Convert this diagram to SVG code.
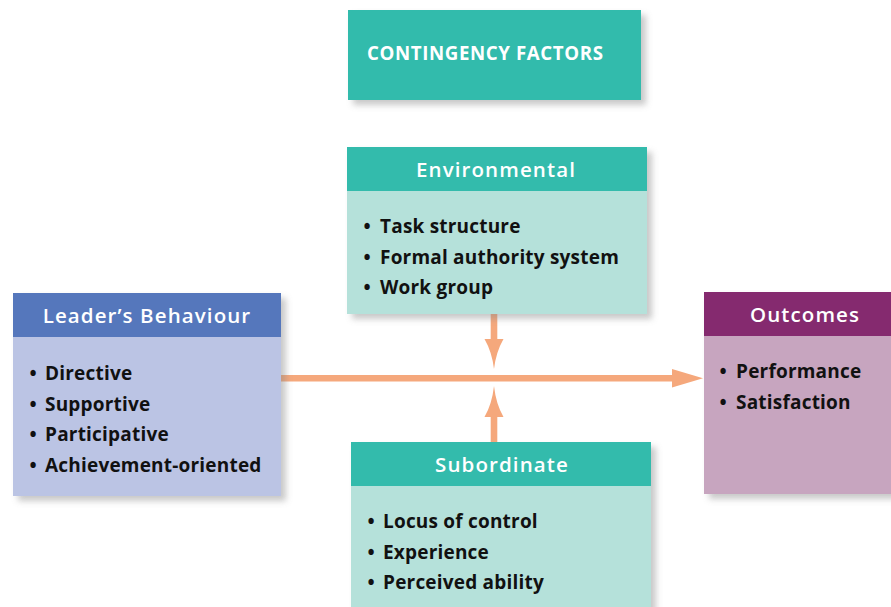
<svg xmlns="http://www.w3.org/2000/svg" width="891" height="607" viewBox="0 0 891 607">
<defs>
<filter id="sh" x="-10%" y="-10%" width="130%" height="130%">
<feDropShadow dx="5" dy="5" stdDeviation="3" flood-color="#888" flood-opacity="0.45"/>
</filter>
</defs>
<style>
.hd{font-family:"Open Sans","DejaVu Sans",sans-serif;font-size:20.5px;font-weight:600;fill:#fff;text-anchor:middle;letter-spacing:1.1px}
.it{font-family:"Open Sans","DejaVu Sans",sans-serif;font-size:19px;font-weight:700;fill:#111;letter-spacing:0.2px}
.ttl{font-family:"Open Sans","DejaVu Sans",sans-serif;font-size:18.7px;font-weight:700;fill:#fff;letter-spacing:0.6px}
.ar{fill:#F5A87C}
</style>
<rect width="891" height="607" fill="#fff"/>
<g id="contingency">
<rect x="348" y="10" width="293" height="90" fill="#33BBAC" filter="url(#sh)"/>
<text class="ttl" x="367" y="60">CONTINGENCY FACTORS</text>
</g>
<g id="connectors">
<rect class="ar" x="281" y="375" width="394" height="6.5"/>
<path class="ar" d="M672,369 L703,378.2 L672,387.5 Z"/>
<rect class="ar" x="490.7" y="314" width="6.6" height="27"/>
<path class="ar" d="M484.5,339 L503.5,339 Q496,352 494,369 Q492,352 484.5,339 Z"/>
<rect class="ar" x="490.7" y="415" width="6.6" height="28"/>
<path class="ar" d="M484.5,417 L503.5,417 Q496,404 494,386 Q492,404 484.5,417 Z"/>
</g>
<g id="environmental">
<rect x="347" y="147" width="300" height="167" fill="#B5E1DA" filter="url(#sh)"/>
<rect x="347" y="147" width="300" height="44" fill="#33BBAC"/>
<text class="hd" x="496" y="177">Environmental</text>
<text class="it" y="233"><tspan x="363.5">•</tspan><tspan x="380">Task structure</tspan></text>
<text class="it" y="264"><tspan x="363.5">•</tspan><tspan x="380">Formal authority system</tspan></text>
<text class="it" y="294"><tspan x="363.5">•</tspan><tspan x="380">Work group</tspan></text>
</g>
<g id="subordinate">
<rect x="351" y="442" width="300" height="175" fill="#B5E1DA" filter="url(#sh)"/>
<rect x="351" y="442" width="300" height="44" fill="#33BBAC"/>
<text class="hd" x="502" y="472">Subordinate</text>
<text class="it" y="528"><tspan x="367.5">•</tspan><tspan x="383">Locus of control</tspan></text>
<text class="it" y="559"><tspan x="367.5">•</tspan><tspan x="383">Experience</tspan></text>
<text class="it" y="589"><tspan x="367.5">•</tspan><tspan x="383">Perceived ability</tspan></text>
</g>
<g id="leader">
<rect x="13" y="293" width="268" height="203" fill="#BBC4E4" filter="url(#sh)"/>
<rect x="13" y="293" width="268" height="44" fill="#5577BC"/>
<text class="hd" x="147" y="323">Leader’s Behaviour</text>
<text class="it" y="380"><tspan x="29.5">•</tspan><tspan x="45">Directive</tspan></text>
<text class="it" y="411"><tspan x="29.5">•</tspan><tspan x="45">Supportive</tspan></text>
<text class="it" y="441"><tspan x="29.5">•</tspan><tspan x="45">Participative</tspan></text>
<text class="it" y="472"><tspan x="29.5">•</tspan><tspan x="45">Achievement-oriented</tspan></text>
</g>
<g id="outcomes">
<rect x="704" y="292" width="200" height="202" fill="#C7A5BF" filter="url(#sh)"/>
<rect x="704" y="292" width="200" height="44" fill="#852A6F"/>
<text class="hd" x="805" y="322">Outcomes</text>
<text class="it" y="378"><tspan x="719.5">•</tspan><tspan x="736">Performance</tspan></text>
<text class="it" y="409"><tspan x="719.5">•</tspan><tspan x="736">Satisfaction</tspan></text>
</g>
</svg>
